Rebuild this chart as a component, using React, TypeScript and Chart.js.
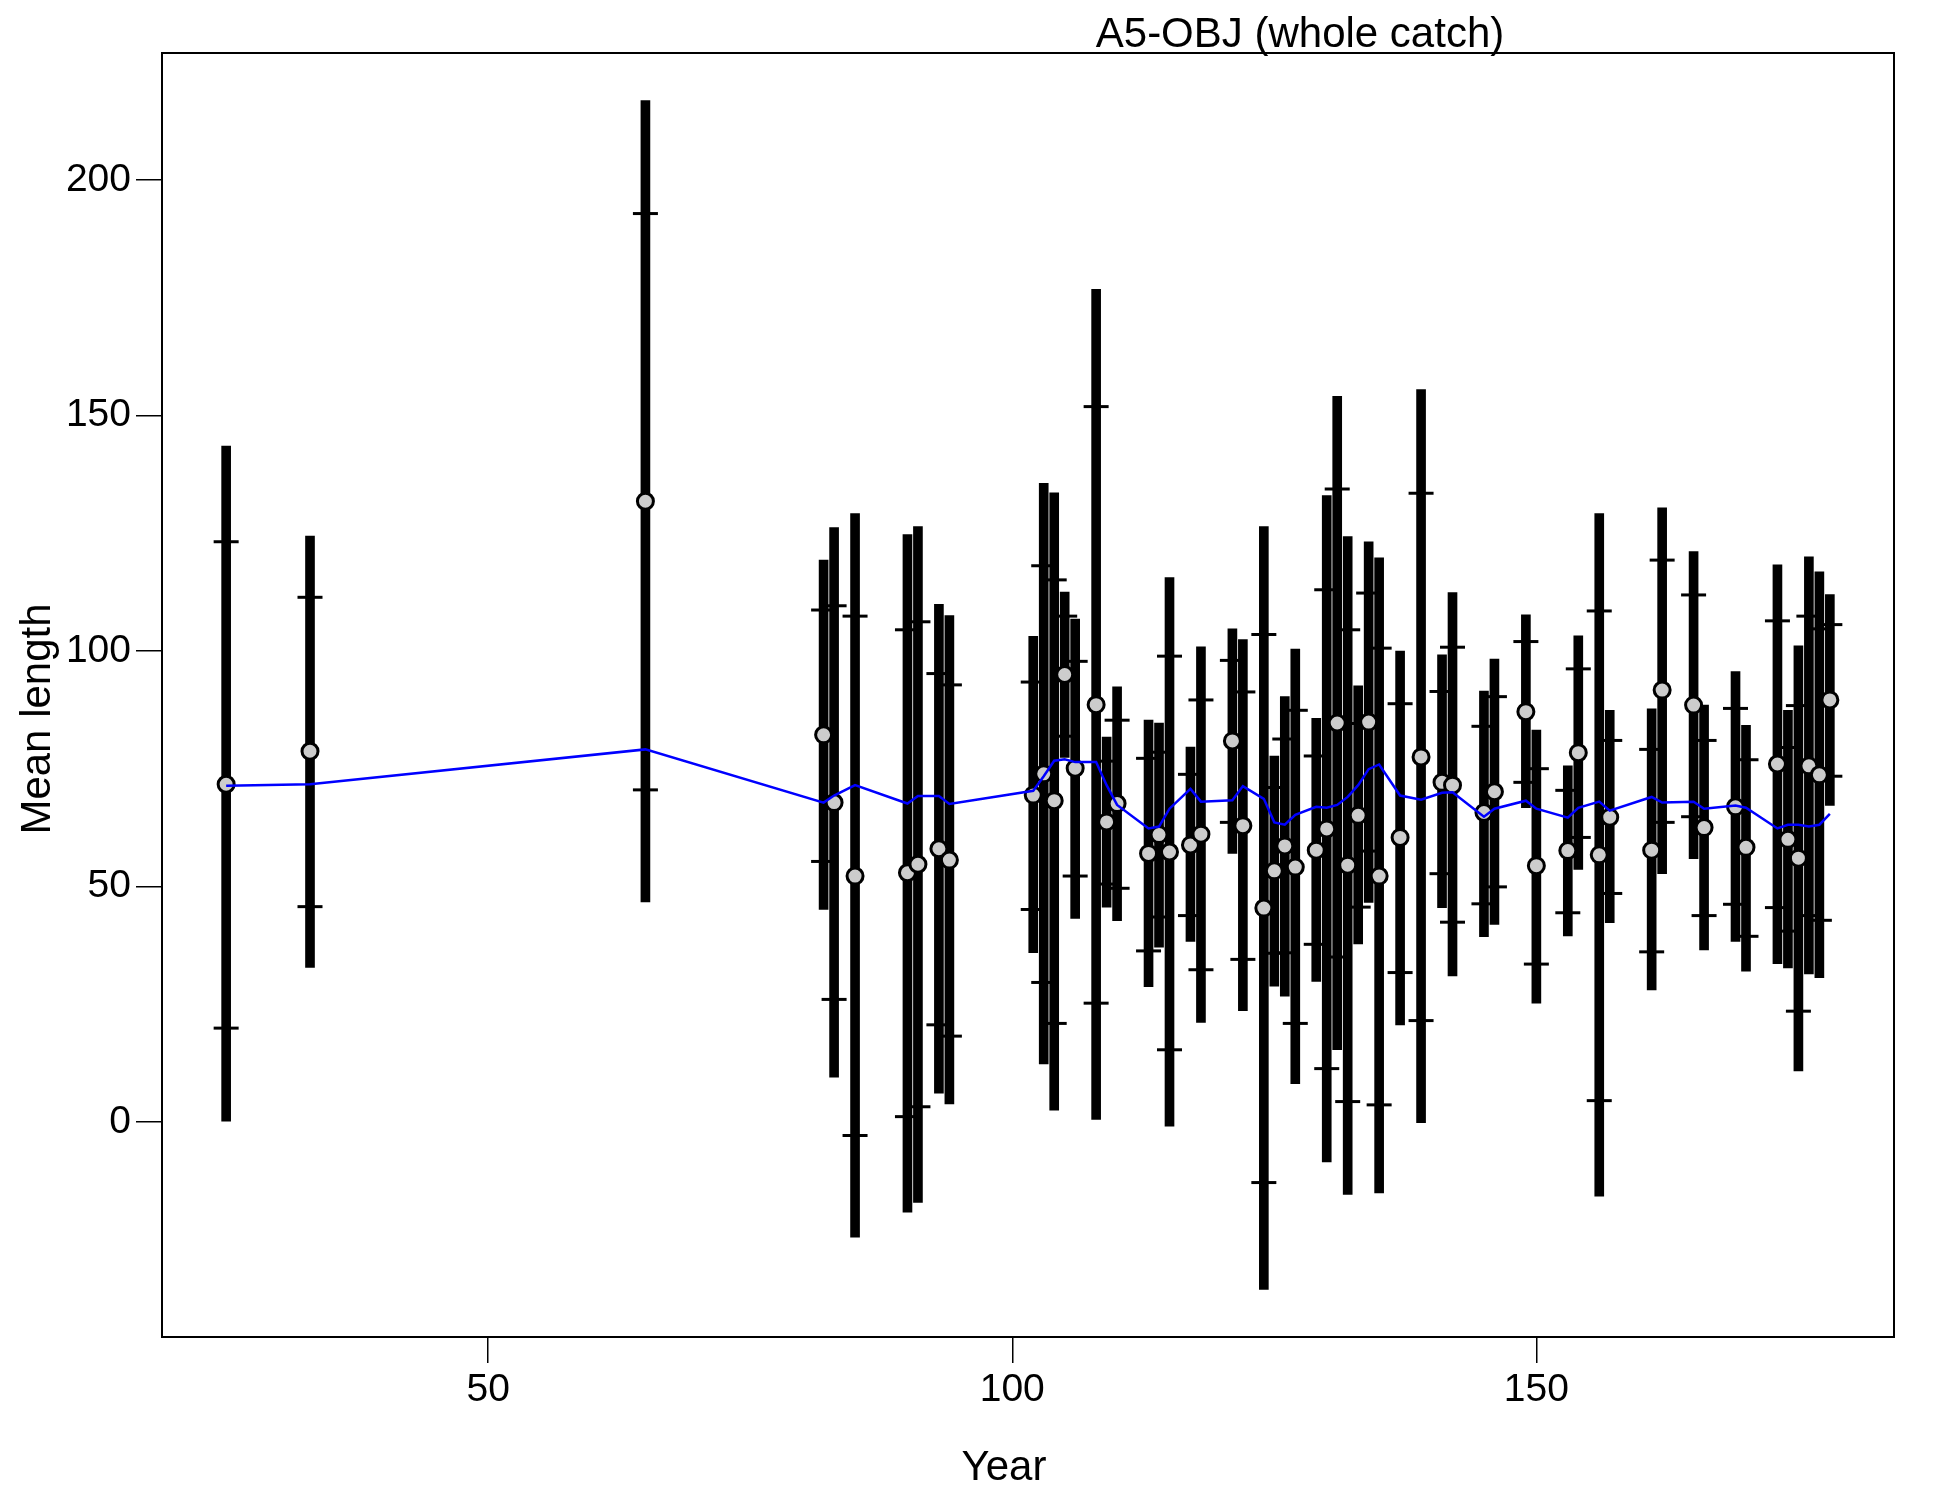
import React, { useEffect, useRef } from "react";
import { Chart, registerables } from "chart.js";

Chart.register(...registerables);

// ---- data ----
const years = [25, 33, 65, 82, 83, 85, 90, 91, 93, 94, 102, 103, 104, 105, 106, 108, 109, 110, 113, 114, 115, 117, 118, 121, 122, 124, 125, 126, 127, 129, 130, 131, 132, 133, 134, 135, 137, 139, 141, 142, 145, 146, 149, 150, 153, 154, 156, 157, 161, 162, 165, 166, 169, 170, 173, 174, 175, 176, 177, 178];

const obsMean = [71.7, 78.7, 131.8, 82.2, 67.8, 52.2, 52.9, 54.7, 58.0, 55.6, 69.4, 73.9, 68.2, 95.0, 75.1, 88.6, 63.7, 67.6, 57.0, 61.0, 57.3, 58.8, 61.1, 80.9, 62.9, 45.4, 53.3, 58.6, 54.1, 57.7, 62.2, 84.7, 54.5, 65.1, 84.9, 52.2, 60.4, 77.5, 72.1, 71.5, 65.7, 70.1, 87.1, 54.4, 57.6, 78.4, 56.7, 64.7, 57.7, 91.7, 88.5, 62.5, 66.9, 58.3, 76.0, 60.0, 56.0, 75.6, 73.7, 89.6];

const expMean = [71.4, 71.7, 79.1, 67.8, 69.3, 71.5, 67.6, 69.2, 69.2, 67.5, 70.3, 73.4, 76.7, 77.0, 76.4, 76.4, 71.5, 67.3, 62.3, 62.7, 66.5, 70.7, 68.0, 68.3, 71.3, 68.6, 63.6, 63.1, 65.2, 66.9, 66.7, 67.3, 69.0, 71.5, 74.9, 75.9, 69.3, 68.4, 69.9, 70.0, 64.8, 66.5, 68.2, 66.5, 64.6, 66.7, 68.0, 66.1, 69.0, 67.8, 68.0, 66.5, 67.2, 66.7, 62.3, 63.1, 63.1, 62.7, 63.1, 65.4];

const barLow = [0.0, 32.8, 46.7, 45.1, 9.5, -24.5, -19.2, -17.1, 6.1, 3.8, 35.9, 12.3, 2.5, 77.4, 43.2, 0.5, 45.6, 42.7, 28.7, 37.1, -0.9, 38.3, 21.1, 57.0, 23.6, -35.6, 28.8, 26.7, 8.1, 29.8, -8.5, 15.3, -15.4, 37.8, 46.6, -15.1, 20.6, -0.2, 45.5, 31.0, 39.3, 41.9, 66.7, 25.2, 39.5, 53.6, -15.8, 42.3, 28.0, 52.7, 55.9, 36.5, 38.3, 32.0, 33.6, 32.7, 10.8, 31.4, 30.6, 67.2];

const barHigh = [143.5, 124.4, 216.9, 119.3, 126.2, 129.2, 124.7, 126.4, 109.9, 107.5, 103.1, 135.6, 133.6, 112.5, 106.8, 176.8, 81.7, 92.4, 85.3, 84.7, 115.6, 79.6, 100.9, 104.7, 102.4, 126.4, 77.7, 90.3, 100.4, 85.7, 133.0, 154.1, 124.3, 92.6, 123.2, 119.8, 100.0, 155.5, 99.2, 112.4, 91.5, 98.3, 107.7, 83.2, 75.6, 103.2, 129.2, 87.4, 87.7, 130.4, 121.1, 88.5, 95.6, 84.2, 118.3, 87.4, 101.1, 120.0, 116.8, 112.0];

const tickLow = [19.9, 45.7, 70.5, 55.3, 26.0, -2.9, 1.1, 3.2, 20.6, 18.2, 45.1, 29.6, 20.9, 81.9, 52.2, 25.2, 50.5, 49.6, 36.3, 43.5, 15.3, 43.8, 32.3, 63.6, 34.5, -12.9, 35.8, 35.9, 20.9, 37.7, 11.3, 35.0, 4.3, 45.6, 57.5, 3.6, 31.7, 21.5, 52.7, 42.4, 46.3, 49.9, 72.1, 33.5, 44.4, 60.4, 4.5, 48.5, 36.1, 63.6, 64.8, 43.8, 46.2, 39.4, 45.5, 40.5, 23.5, 43.8, 42.8, 73.4];

const tickHigh = [123.2, 111.4, 192.9, 108.7, 109.6, 107.4, 104.5, 106.2, 95.2, 92.8, 93.4, 118.1, 115.1, 107.4, 97.8, 151.9, 76.6, 85.3, 77.2, 78.5, 98.9, 73.8, 89.6, 98.0, 91.3, 103.5, 71.0, 81.3, 87.4, 77.7, 113.0, 134.4, 104.5, 84.6, 112.3, 100.6, 88.8, 133.5, 91.4, 100.8, 84.0, 90.3, 102.0, 75.0, 70.4, 96.2, 108.5, 81.0, 79.1, 119.3, 111.9, 81.0, 87.8, 76.9, 106.4, 79.5, 88.4, 107.4, 104.7, 105.6];

const xTickValues = [50, 100, 150];
const yTickValues = [0, 50, 100, 150, 200];

const chartTitle = "A5-OBJ (whole catch)";
const xTitle = "Year";
const yTitle = "Mean length";

const FONT_FAMILY = '"Liberation Sans", Arial, Helvetica, sans-serif';

export default function App() {
  const canvasRef = useRef<HTMLCanvasElement | null>(null);

  useEffect(() => {
    const canvas = canvasRef.current;
    if (!canvas) return;

    const framePlugin = {
      id: "rFrameAndTitles",
      afterDraw(chart: any) {
        const ctx = chart.ctx as CanvasRenderingContext2D;
        const a = chart.chartArea;
        ctx.save();
        ctx.strokeStyle = "#000";
        ctx.lineWidth = 2;
        ctx.strokeRect(a.left, a.top, a.right - a.left, a.bottom - a.top);
        ctx.fillStyle = "#000";
        ctx.font = `42px ${FONT_FAMILY}`;
        ctx.textAlign = "center";
        ctx.textBaseline = "alphabetic";
        ctx.fillText(chartTitle, 1300, 47);
        ctx.fillText(xTitle, 1004, 1480);
        ctx.translate(50, 719);
        ctx.rotate(-Math.PI / 2);
        ctx.fillText(yTitle, 0, 0);
        ctx.restore();
      },
    };

    const tickFont = { family: FONT_FAMILY, size: 39 };

    const chart = new Chart(canvas, {
      type: "bar",
      data: {
        datasets: [
          {
            type: "line",
            label: "Expected",
            data: years.map((x, i) => ({ x, y: expMean[i] })),
            borderColor: "#0000FF",
            borderWidth: 2.5,
            pointRadius: 0,
            fill: false,
            tension: 0,
            order: 1,
          } as any,
          {
            type: "scatter",
            label: "Observed",
            data: years.map((x, i) => ({ x, y: obsMean[i] })),
            pointStyle: "circle",
            pointRadius: 8,
            pointBorderWidth: 3,
            pointBackgroundColor: "#CCCCCC",
            pointBorderColor: "#000000",
            borderColor: "#000000",
            backgroundColor: "#CCCCCC",
            order: 2,
          } as any,
          {
            type: "scatter",
            label: "Inner interval",
            data: [
              ...years.map((x, i) => ({ x, y: tickLow[i] })),
              ...years.map((x, i) => ({ x, y: tickHigh[i] })),
            ],
            pointStyle: "line",
            pointRadius: 12.5,
            pointBorderWidth: 3,
            pointBorderColor: "#000000",
            borderColor: "#000000",
            order: 3,
          } as any,
          {
            type: "bar",
            label: "Outer interval",
            data: years.map((x, i) => ({ x, y: [barLow[i], barHigh[i]] })),
            backgroundColor: "#000000",
            borderWidth: 0,
            barThickness: 9,
            order: 4,
          } as any,
        ],
      },
      options: {
        responsive: false,
        animation: false,
        devicePixelRatio: 1,
        events: [],
        layout: { padding: { top: 53, right: 56, left: 0, bottom: 0 } },
        plugins: {
          legend: { display: false },
          tooltip: { enabled: false },
          title: { display: false },
        },
        scales: {
          x: {
            type: "linear",
            min: 18.88,
            max: 184.12,
            offset: false,
            afterBuildTicks: (s: any) => {
              s.ticks = xTickValues.map((v) => ({ value: v }));
            },
            afterFit: (s: any) => {
              s.height = 163;
            },
            grid: {
              display: true,
              drawOnChartArea: false,
              drawTicks: true,
              tickLength: 26,
              color: "#000",
              lineWidth: 1.5,
              offset: false,
            },
            border: { display: true, color: "#000", width: 2 },
            ticks: {
              color: "#000",
              font: tickFont,
              padding: 4,
              maxRotation: 0,
              autoSkip: false,
            },
          },
          y: {
            type: "linear",
            min: -45.7,
            max: 227.0,
            afterBuildTicks: (s: any) => {
              s.ticks = yTickValues.map((v) => ({ value: v }));
            },
            afterFit: (s: any) => {
              s.width = 162;
            },
            grid: {
              display: true,
              drawOnChartArea: false,
              drawTicks: true,
              tickLength: 26,
              color: "#000",
              lineWidth: 1.5,
            },
            border: { display: true, color: "#000", width: 2 },
            ticks: {
              color: "#000",
              font: tickFont,
              padding: 5,
              autoSkip: false,
            },
          },
        },
      } as any,
      plugins: [framePlugin],
    });

    return () => {
      chart.destroy();
    };
  }, []);

  return (
    <div
      style={{
        position: "absolute",
        left: 0,
        top: 0,
        width: 1950,
        height: 1500,
        background: "#fff",
      }}
    >
      <canvas ref={canvasRef} width={1950} height={1500} style={{ width: 1950, height: 1500, display: "block" }} />
    </div>
  );
}
